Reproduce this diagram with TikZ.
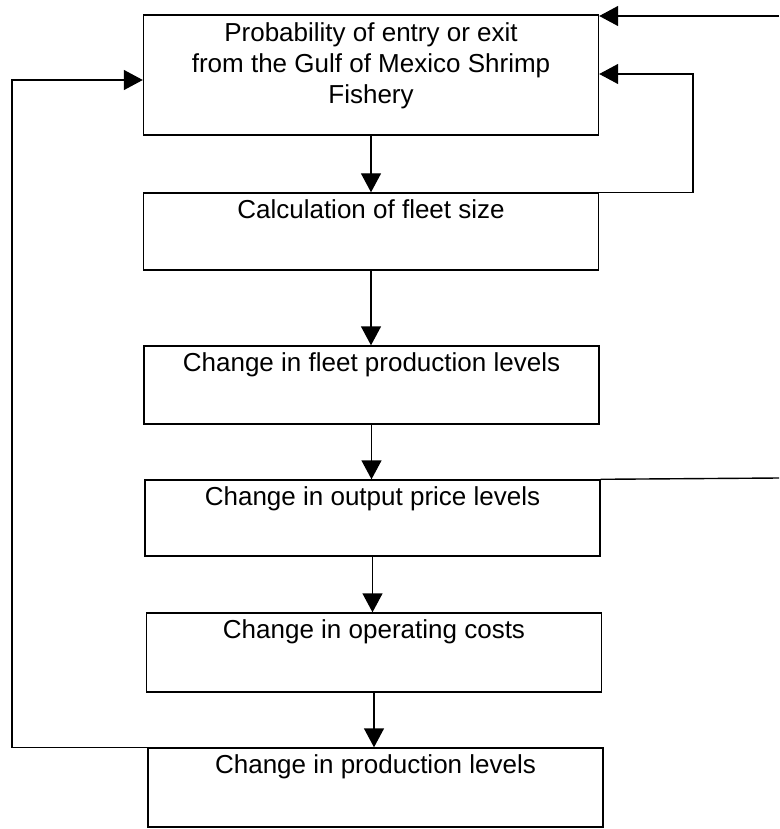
\documentclass[tikz,border=0pt]{standalone}
\usepackage{fontspec}
\setmainfont{Liberation Sans}
\usetikzlibrary{arrows.meta,positioning}

\begin{document}
\begin{tikzpicture}[x=1pt,y=-1pt,>={Triangle[length=19pt,width=20pt]},line width=1.4pt]
    \tikzset{block/.style= {draw, rectangle
    , minimum width=455pt
    , inner sep=0pt
      }
    , boxtext/.style= {align=center
    , inner sep=0pt
    , font=\fontsize{26}{31}\selectfont
      }
    }

\useasboundingbox (0,0) rectangle (779,829);

\node [block, minimum height=120pt] (prob) at (371,75) {};
\node [block, minimum height=77pt] (fleet) at (371,231.5) {};
\node [block, minimum height=78pt] (fleetprod) at (371.5,385) {};
\node [block, minimum height=76pt] (price) at (372.5,518) {};
\node [block, minimum height=79pt] (cost) at (374,652.5) {};
\node [block, minimum height=79pt] (prod) at (375.5,787.5) {};

\node [boxtext, below=8pt of prob.north] (probtext) {Probability of entry or exit\\from the Gulf of Mexico Shrimp\\Fishery};
\node [boxtext, below=7pt of fleet.north] (fleettext) {Calculation of fleet size};
\node [boxtext, below=7pt of fleetprod.north] (fleetprodtext) {Change in fleet production levels};
\node [boxtext, below=7pt of price.north] (pricetext) {Change in output price levels};
\node [boxtext, below=7pt of cost.north] (costtext) {Change in operating costs};
\node [boxtext, below=7pt of prod.north] (prodtext) {Change in production levels};

\coordinate (inright) at (779,16);
\coordinate (outright) at (779,478);
\coordinate (loopright) at (693,74);
\coordinate (loopleft) at (12,80);

 \path[draw, ->] (prob.south) -- (prob.south |- fleet.north);
 \path[draw, ->] (fleet.south) -- (fleet.south |- fleetprod.north);
 \path[draw, ->] (fleetprod.south) -- (fleetprod.south |- price.north);
 \path[draw, ->] (price.south) -- (price.south |- cost.north);
 \path[draw, ->] (cost.south) -- (cost.south |- prod.north);

 \path[draw, ->] (inright) -- (inright -| prob.east);
 \path[draw, ->] (fleet.north east) -| (loopright) -- (loopright -| prob.east);
 \path[draw] (price.north east) -- (outright);
 \path[draw, ->] (prod.north west) -| (loopleft) -- (loopleft -| prob.west);
\end{tikzpicture}
\end{document}
